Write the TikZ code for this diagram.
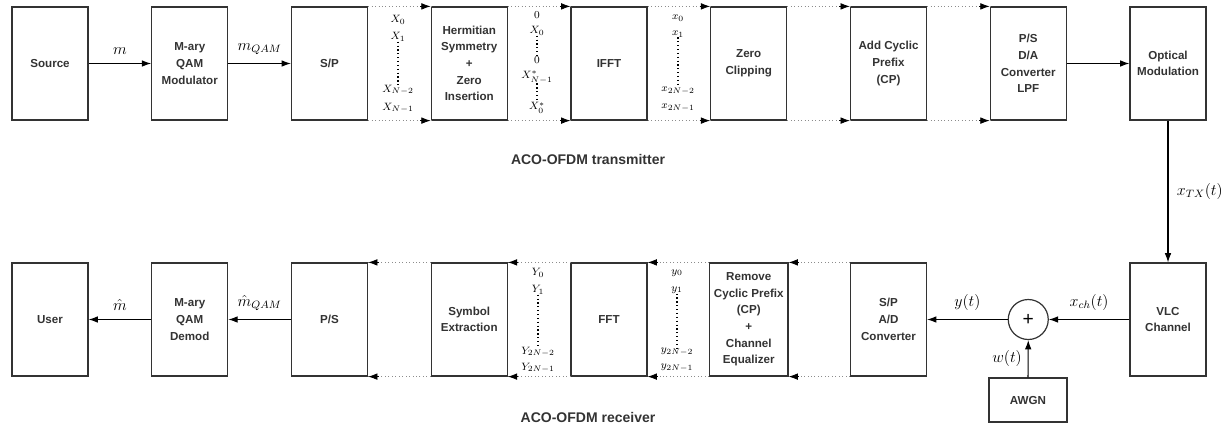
\documentclass[tikz,border=0pt]{standalone}
\usepackage{fontspec}
\setmainfont{Liberation Sans}
\usetikzlibrary{arrows.meta}

\begin{document}
\begin{tikzpicture}[x=0.75pt, y=-0.75pt,
		b/.style={rectangle, draw=black!80, line width=0.9pt, minimum width=57pt, minimum height=84.75pt, align=center, text=black!80, font=\fontsize{8.7}{12.5}\selectfont\bfseries},
		c/.style={circle, draw=black!80, line width=0.9pt, minimum size=30pt, inner sep=0pt, font=\Large},
		v/.style={inner sep=0pt, font=\fontsize{8.5}{9}\selectfont},
		l/.style={font=\large},
		t/.style={text=black!80, font=\fontsize{10.5}{12}\selectfont\bfseries},
		r/.style={-{Latex[length=7pt, width=5pt]}, line width=0.8pt},
		d/.style={draw=black!45, dotted, line width=0.6pt,
			postaction={draw=black, solid, shorten <=39pt, -{Latex[length=7pt, width=5pt]}}},
		e/.style={dotted, line width=0.9pt}
		]
		\useasboundingbox (0,0) rectangle (1226,429);
		
		%Nodes (transmitter)
		\node[b]	(src)	at (50, 63.5)		{Source};
		\node[b]	(mod)	at (189.75, 63.5)	{M-ary\\QAM\\Modulator};
		\node[b]	(sp)	at (329.5, 63.5)	{S/P};
		\node[b]	(herm)	at (469.25, 63.5)	{Hermitian\\Symmetry\\+\\Zero\\Insertion};
		\node[b]	(ifft)	at (609, 63.5)		{IFFT};
		\node[b]	(clip)	at (748.75, 63.5)	{Zero\\Clipping};
		\node[b]	(addcp)	at (888.5, 63.5)	{Add Cyclic\\Prefix\\(CP)};
		\node[b]	(ps)	at (1028.25, 63.5)	{P/S\\D/A\\Converter\\LPF};
		\node[b]	(optm)	at (1168, 63.5)		{Optical\\Modulation};
		
		%Nodes (receiver)
		\node[b]	(user)	at (50, 319.5)		{User};
		\node[b]	(demod)	at (189.75, 319.5)	{M-ary\\QAM\\Demod};
		\node[b]	(ps2)	at (329.5, 319.5)	{P/S};
		\node[b]	(symb)	at (469.25, 319.5)	{Symbol\\Extraction};
		\node[b]	(fft)	at (609, 319.5)		{FFT};
		\node[b]	(rmcp)	at (748.75, 319.5)	{Remove\\Cyclic Prefix\\(CP)\\+\\Channel\\Equalizer};
		\node[b]	(spad)	at (888.5, 319.5)	{S/P\\A/D\\Converter};
		\node[c]	(sum)	at (1028.25, 319.5)	{+};
		\node[b]	(vlc)	at (1168, 319.5)	{VLC\\Channel};
		\node[b, minimum width=58.5pt, minimum height=33pt]	(awgn)	at (1028, 400)	{AWGN};
		
		%Titles
		\node[t]	(txt)	at (588, 159)	{ACO-OFDM transmitter};
		\node[t]	(rxt)	at (588, 417)	{ACO-OFDM receiver};
		
		%Subcarrier columns
		\node[v]	(X0)	at (398, 20)	{$X_0$};
		\node[v]	(X1)	at (398, 37)	{$X_1$};
		\node[v]	(Xn2)	at (398, 90)	{$X_{N-2}$};
		\node[v]	(Xn1)	at (398, 108)	{$X_{N-1}$};
		
		\node[v]	(h1)	at (537, 15)	{$0$};
		\node[v]	(h2)	at (537, 31)	{$X_0$};
		\node[v]	(h3)	at (537, 60)	{$0$};
		\node[v]	(h4)	at (537, 77)	{$X^*_{N-1}$};
		\node[v]	(h5)	at (537, 108)	{$X^*_0$};
		
		\node[v]	(x0)	at (678, 18)	{$x_0$};
		\node[v]	(x1)	at (678, 34)	{$x_1$};
		\node[v]	(xn2)	at (678, 91)	{$x_{2N-2}$};
		\node[v]	(xn1)	at (678, 108)	{$x_{2N-1}$};
		
		\node[v]	(Y0)	at (538, 273)	{$Y_0$};
		\node[v]	(Y1)	at (538, 290)	{$Y_1$};
		\node[v]	(Yn2)	at (538, 352)	{$Y_{2N-2}$};
		\node[v]	(Yn1)	at (538, 368)	{$Y_{2N-1}$};
		
		\node[v]	(y0)	at (677, 273)	{$y_0$};
		\node[v]	(y1)	at (677, 290)	{$y_1$};
		\node[v]	(yn2)	at (677, 352)	{$y_{2N-2}$};
		\node[v]	(yn1)	at (677, 368)	{$y_{2N-1}$};
		
		\draw[e] (X1.south)  -- (Xn2.north);
		\draw[e] (h2.south)  -- (h3.north);
		\draw[e] (h4.south)  -- (h5.north);
		\draw[e] (x1.south)  -- (xn2.north);
		\draw[e] (Y1.south)  -- (Yn2.north);
		\draw[e] (y1.south)  -- (yn2.north);
		
		%Lines (transmitter)
		\draw[r] (src.east) to node[l, above=3pt] {$m$} (mod.west);
		\draw[r] (mod.east) to node[l, above=3pt] {$m_{QAM}$} (sp.west);
		\draw[d] (sp.north east)    -- (herm.north west);
		\draw[d] (sp.south east)    -- (herm.south west);
		\draw[d] (herm.north east)  -- (ifft.north west);
		\draw[d] (herm.south east)  -- (ifft.south west);
		\draw[d] (ifft.north east)  -- (clip.north west);
		\draw[d] (ifft.south east)  -- (clip.south west);
		\draw[d] (clip.north east)  -- (addcp.north west);
		\draw[d] (clip.south east)  -- (addcp.south west);
		\draw[d] (addcp.north east) -- (ps.north west);
		\draw[d] (addcp.south east) -- (ps.south west);
		\draw[r] (ps.east) -- (optm.west);
		\draw[r] (optm.south) to node[l, right=3pt] {$x_{TX}(t)$} (vlc.north);
		
		%Lines (receiver)
		\draw[r] (vlc.west) to node[l, above=3pt] {$x_{ch}(t)$} (sum.east);
		\draw[r] (awgn.north) to node[l, left=1pt] {$w(t)$} (sum.south);
		\draw[r] (sum.west) to node[l, above=3pt] {$y(t)$} (spad.east);
		\draw[d] (spad.north west)  -- (rmcp.north east);
		\draw[d] (spad.south west)  -- (rmcp.south east);
		\draw[d] (rmcp.north west)  -- (fft.north east);
		\draw[d] (rmcp.south west)  -- (fft.south east);
		\draw[d] (fft.north west)   -- (symb.north east);
		\draw[d] (fft.south west)   -- (symb.south east);
		\draw[d] (symb.north west)  -- (ps2.north east);
		\draw[d] (symb.south west)  -- (ps2.south east);
		\draw[r] (ps2.west) to node[l, above=3pt] {$\hat{m}_{QAM}$} (demod.east);
		\draw[r] (demod.west) to node[l, above=3pt] {$\hat{m}$} (user.east);
		
	\end{tikzpicture}
\end{document}
